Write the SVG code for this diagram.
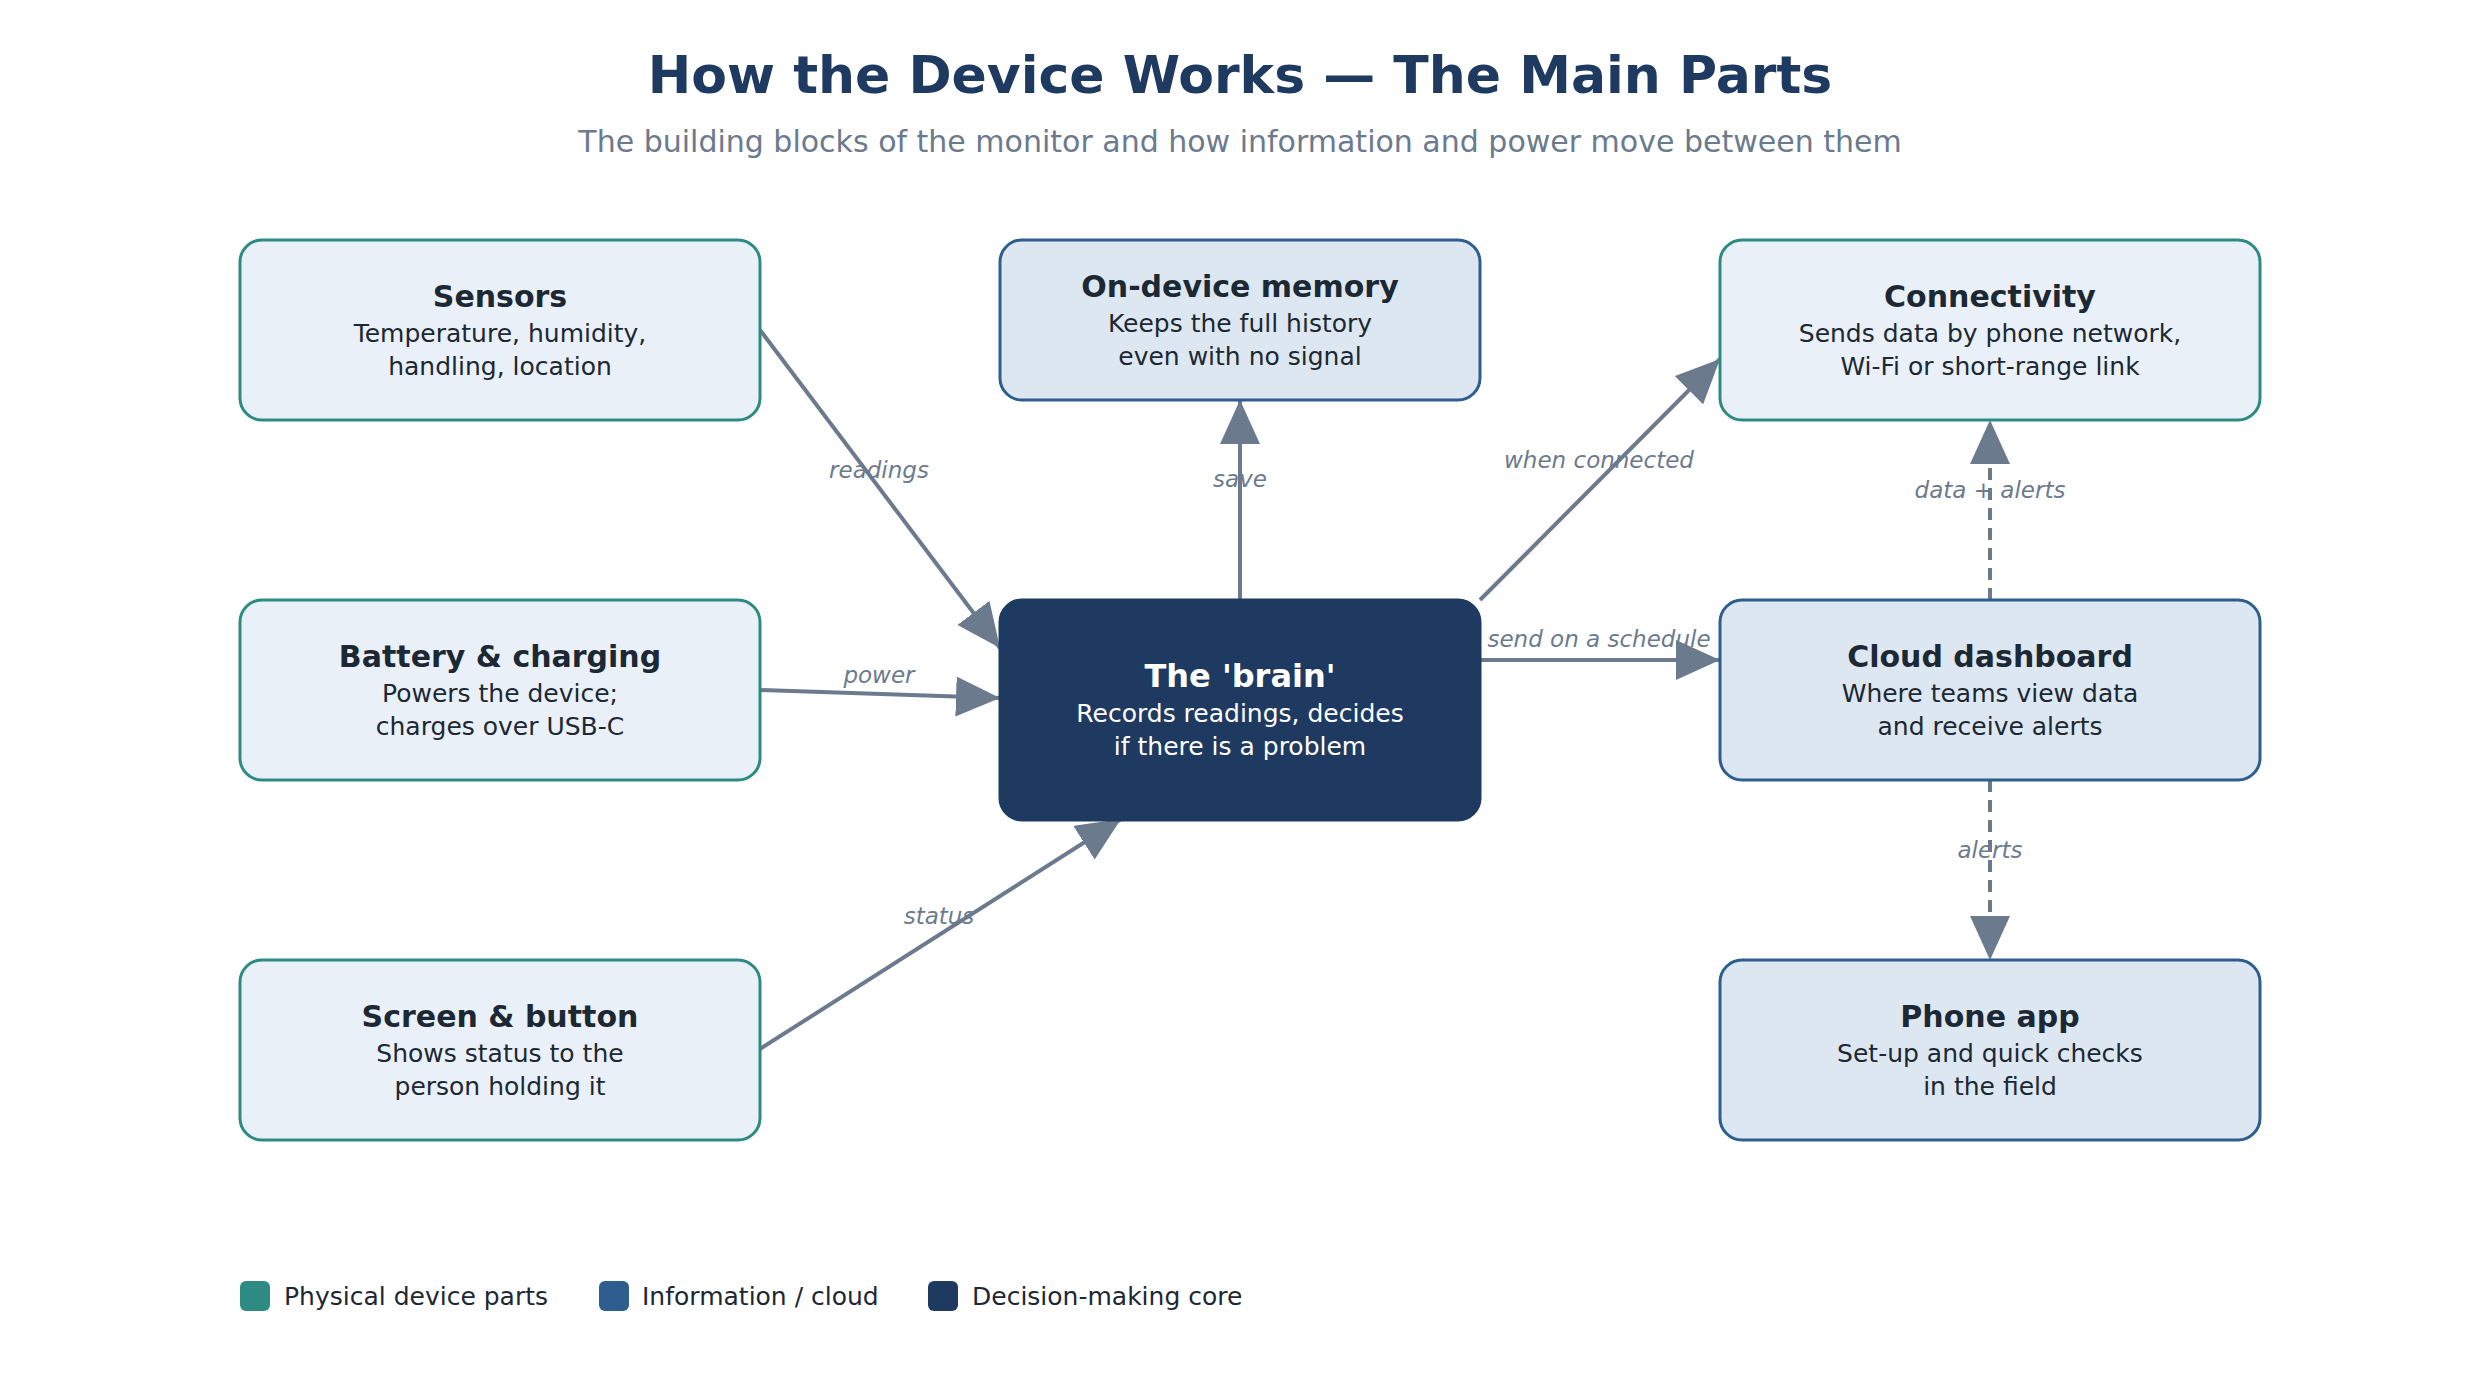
<svg xmlns="http://www.w3.org/2000/svg" width="2480" height="1400" viewBox="0 0 2480 1400">
<style>
text{font-family:"DejaVu Sans","Liberation Sans",sans-serif;}
.title{font-size:52px;font-weight:bold;fill:#1f3a60;text-anchor:middle;}
.sub{font-size:30px;fill:#6b7a8d;text-anchor:middle;}
.phys{fill:#e9f0f8;stroke:#2e8b84;stroke-width:3;}
.info{fill:#dde7f2;stroke:#2d5e8e;stroke-width:3;}
.core{fill:#1f3a60;stroke:#1f3a60;stroke-width:3;}
.nt{font-size:30px;font-weight:bold;fill:#1c2833;text-anchor:middle;}
.nd{font-size:25px;fill:#1c2833;text-anchor:middle;}
.ntw{font-size:32px;font-weight:bold;fill:#ffffff;text-anchor:middle;}
.ndw{font-size:25px;fill:#ffffff;text-anchor:middle;}
.edge{stroke:#6b7a8d;stroke-width:4;fill:none;marker-end:url(#arr);}
.dash{stroke-dasharray:12 8;}
.el{font-size:23px;font-style:italic;fill:#6b7a8d;text-anchor:middle;}
.lg{font-size:25px;fill:#1c2833;}
</style>
<defs>
<marker id="arr" markerUnits="userSpaceOnUse" markerWidth="44" markerHeight="40" refX="44" refY="20" orient="auto">
<path d="M0,0 L44,20 L0,40 z" fill="#6b7a8d"/>
</marker>
</defs>
<rect width="2480" height="1400" fill="#ffffff"/>
<text class="title" x="1240" y="93">How the Device Works — The Main Parts</text>
<text class="sub" x="1240" y="152">The building blocks of the monitor and how information and power move between them</text>

<g id="connectors">
<line class="edge" x1="760" y1="330" x2="1000" y2="648"/>
<line class="edge" x1="760" y1="690" x2="1000" y2="698"/>
<line class="edge" x1="760" y1="1049" x2="1121" y2="819"/>
<line class="edge" x1="1240" y1="600" x2="1240" y2="400"/>
<line class="edge" x1="1480" y1="600" x2="1720" y2="359"/>
<line class="edge" x1="1480" y1="660" x2="1720" y2="660"/>
<line class="edge dash" x1="1990" y1="600" x2="1990" y2="420"/>
<line class="edge dash" x1="1990" y1="780" x2="1990" y2="960"/>
<text class="el" x="879" y="478">readings</text>
<text class="el" x="879" y="683">power</text>
<text class="el" x="939" y="924">status</text>
<text class="el" x="1240" y="487">save</text>
<text class="el" x="1599" y="468">when connected</text>
<text class="el" x="1599" y="647">send on a schedule</text>
<text class="el" x="1990" y="498">data + alerts</text>
<text class="el" x="1990" y="858">alerts</text>
</g>

<g id="sensors">
<rect class="phys" x="240" y="240" width="520" height="180" rx="22"/>
<text class="nt" x="500" y="307">Sensors</text>
<text class="nd" x="500" y="342">Temperature, humidity,</text>
<text class="nd" x="500" y="375">handling, location</text>
</g>
<g id="battery">
<rect class="phys" x="240" y="600" width="520" height="180" rx="22"/>
<text class="nt" x="500" y="667">Battery &amp; charging</text>
<text class="nd" x="500" y="702">Powers the device;</text>
<text class="nd" x="500" y="735">charges over USB-C</text>
</g>
<g id="screen">
<rect class="phys" x="240" y="960" width="520" height="180" rx="22"/>
<text class="nt" x="500" y="1027">Screen &amp; button</text>
<text class="nd" x="500" y="1062">Shows status to the</text>
<text class="nd" x="500" y="1095">person holding it</text>
</g>
<g id="memory">
<rect class="info" x="1000" y="240" width="480" height="160" rx="22"/>
<text class="nt" x="1240" y="297">On-device memory</text>
<text class="nd" x="1240" y="332">Keeps the full history</text>
<text class="nd" x="1240" y="365">even with no signal</text>
</g>
<g id="brain">
<rect class="core" x="1000" y="600" width="480" height="220" rx="22"/>
<text class="ntw" x="1240" y="687">The 'brain'</text>
<text class="ndw" x="1240" y="722">Records readings, decides</text>
<text class="ndw" x="1240" y="755">if there is a problem</text>
</g>
<g id="connectivity">
<rect class="phys" x="1720" y="240" width="540" height="180" rx="22"/>
<text class="nt" x="1990" y="307">Connectivity</text>
<text class="nd" x="1990" y="342">Sends data by phone network,</text>
<text class="nd" x="1990" y="375">Wi-Fi or short-range link</text>
</g>
<g id="cloud">
<rect class="info" x="1720" y="600" width="540" height="180" rx="22"/>
<text class="nt" x="1990" y="667">Cloud dashboard</text>
<text class="nd" x="1990" y="702">Where teams view data</text>
<text class="nd" x="1990" y="735">and receive alerts</text>
</g>
<g id="phone">
<rect class="info" x="1720" y="960" width="540" height="180" rx="22"/>
<text class="nt" x="1990" y="1027">Phone app</text>
<text class="nd" x="1990" y="1062">Set-up and quick checks</text>
<text class="nd" x="1990" y="1095">in the field</text>
</g>

<g id="legend">
<rect x="240" y="1281" width="30" height="30" rx="6" fill="#2e8b84"/>
<text class="lg" x="284" y="1305">Physical device parts</text>
<rect x="599" y="1281" width="30" height="30" rx="6" fill="#2d5e8e"/>
<text class="lg" x="642" y="1305">Information / cloud</text>
<rect x="928" y="1281" width="30" height="30" rx="6" fill="#1f3a60"/>
<text class="lg" x="972" y="1305">Decision-making core</text>
</g>
</svg>
